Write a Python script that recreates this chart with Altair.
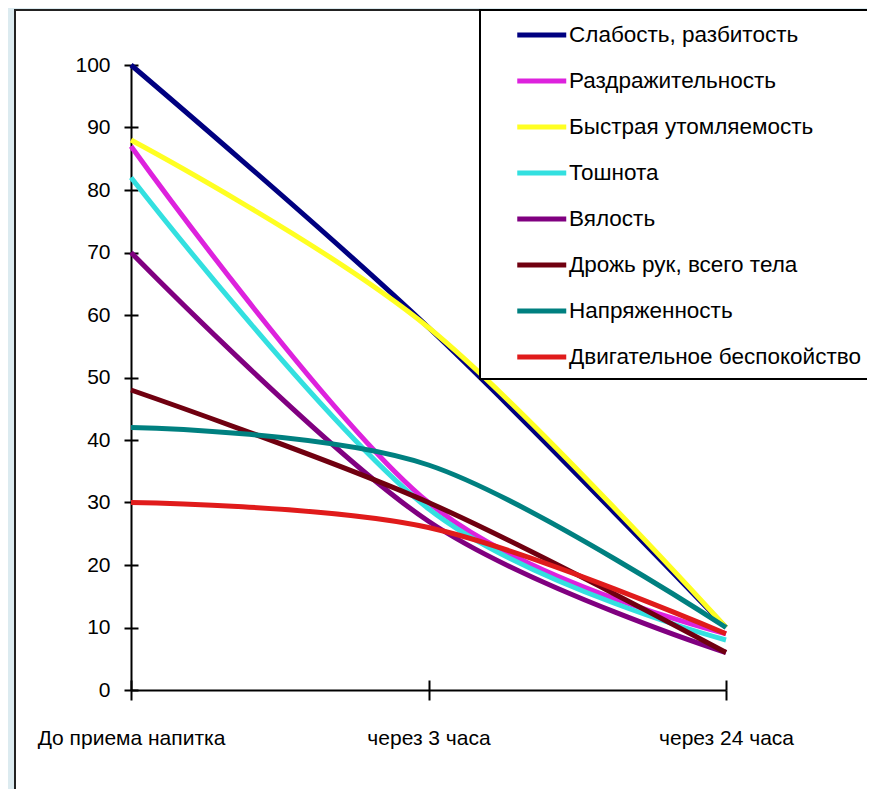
import altair as alt
import pandas as pd

categories = ["До приема напитка", "через 3 часа", "через 24 часа"]
series = [
    "Слабость, разбитость",
    "Раздражительность",
    "Быстрая утомляемость",
    "Тошнота",
    "Вялость",
    "Дрожь рук, всего тела",
    "Напряженность",
    "Двигательное беспокойство",
]
colors = ["#000080", "#DD22DD", "#FFFF22", "#33E0E0", "#800080", "#700010", "#008080", "#E01B1B"]

weakness = [100, 58, 10]
irritability = [87, 30, 9]
fatigue = [88, 58, 10]
nausea = [82, 29, 8]
lethargy = [70, 27, 6]
tremor = [48, 30, 6]
tension = [42, 36, 10]
restlessness = [30, 26, 9]
values = [weakness, irritability, fatigue, nausea, lethargy, tremor, tension, restlessness]

rows = []
for i, (name, vals) in enumerate(zip(series, values)):
    for cat, v in zip(categories, vals):
        rows.append({"symptom": name, "time": cat, "value": v, "k": i})
df = pd.DataFrame(rows)

FONT = "Liberation Sans, Arial, sans-serif"

x_scale = alt.Scale(domain=categories, range=[116, 711], padding=0)
y_scale = alt.Scale(domain=[0, 100], range=[680, 55], nice=False, zero=True)
yticks = list(range(0, 101, 10))

lines = alt.Chart(df).mark_line(strokeWidth=5, interpolate="cardinal").encode(
    x=alt.X("time:N", sort=categories, scale=x_scale,
            axis=alt.Axis(orient="bottom", offset=-105, title=None, labelAngle=0,
                          tickSize=10, labelPadding=38, labelBaseline="middle",
                          labelLimit=400)),
    y=alt.Y("value:Q", scale=y_scale,
            axis=alt.Axis(orient="left", offset=-116, values=yticks, title=None,
                          tickSize=7, labelPadding=14)),
    color=alt.Color("symptom:N", sort=series, scale=alt.Scale(domain=series, range=colors),
                    legend=alt.Legend(orient="none", legendX=465, legendY=0, title=None,
                                      symbolType="M-3,0H1", symbolStrokeWidth=5,
                                      symbolSize=600, labelFontSize=22.5, labelFont=FONT,
                                      labelColor="black", labelOffset=0,
                                      symbolOffset=49,
                                      strokeColor="black", fillColor="white",
                                      padding=10, rowPadding=19, labelLimit=400)),
    detail="k:O",
)

ticks2 = alt.Chart(df).mark_point(opacity=0).encode(
    x=alt.X("time:N", sort=categories, scale=x_scale,
            axis=alt.Axis(orient="top", offset=-680, labels=False, domain=False,
                          tickSize=10, title=None)),
    y=alt.Y("value:Q", scale=y_scale,
            axis=alt.Axis(orient="right", offset=-744, labels=False, domain=False,
                          values=yticks, tickSize=7, title=None)),
)

chart = alt.layer(lines, ticks2).resolve_axis(
    x="independent", y="independent"
).properties(
    width=860, height=785,
    autosize=alt.AutoSizeParams(type="none"),
    padding={"left": 7, "top": 2, "right": -8, "bottom": -6},
    background="#dcebf0",
).configure_view(
    stroke="#222222", strokeWidth=2, fill="white"
).configure_axis(
    grid=False, domainColor="black", domainWidth=2, tickColor="black", tickWidth=2,
    labelFont=FONT, labelFontSize=21, labelColor="black",
).configure_legend(
    strokeWidth=2
)

chart.save("out.html", embed_options={"renderer": "svg", "actions": False})
